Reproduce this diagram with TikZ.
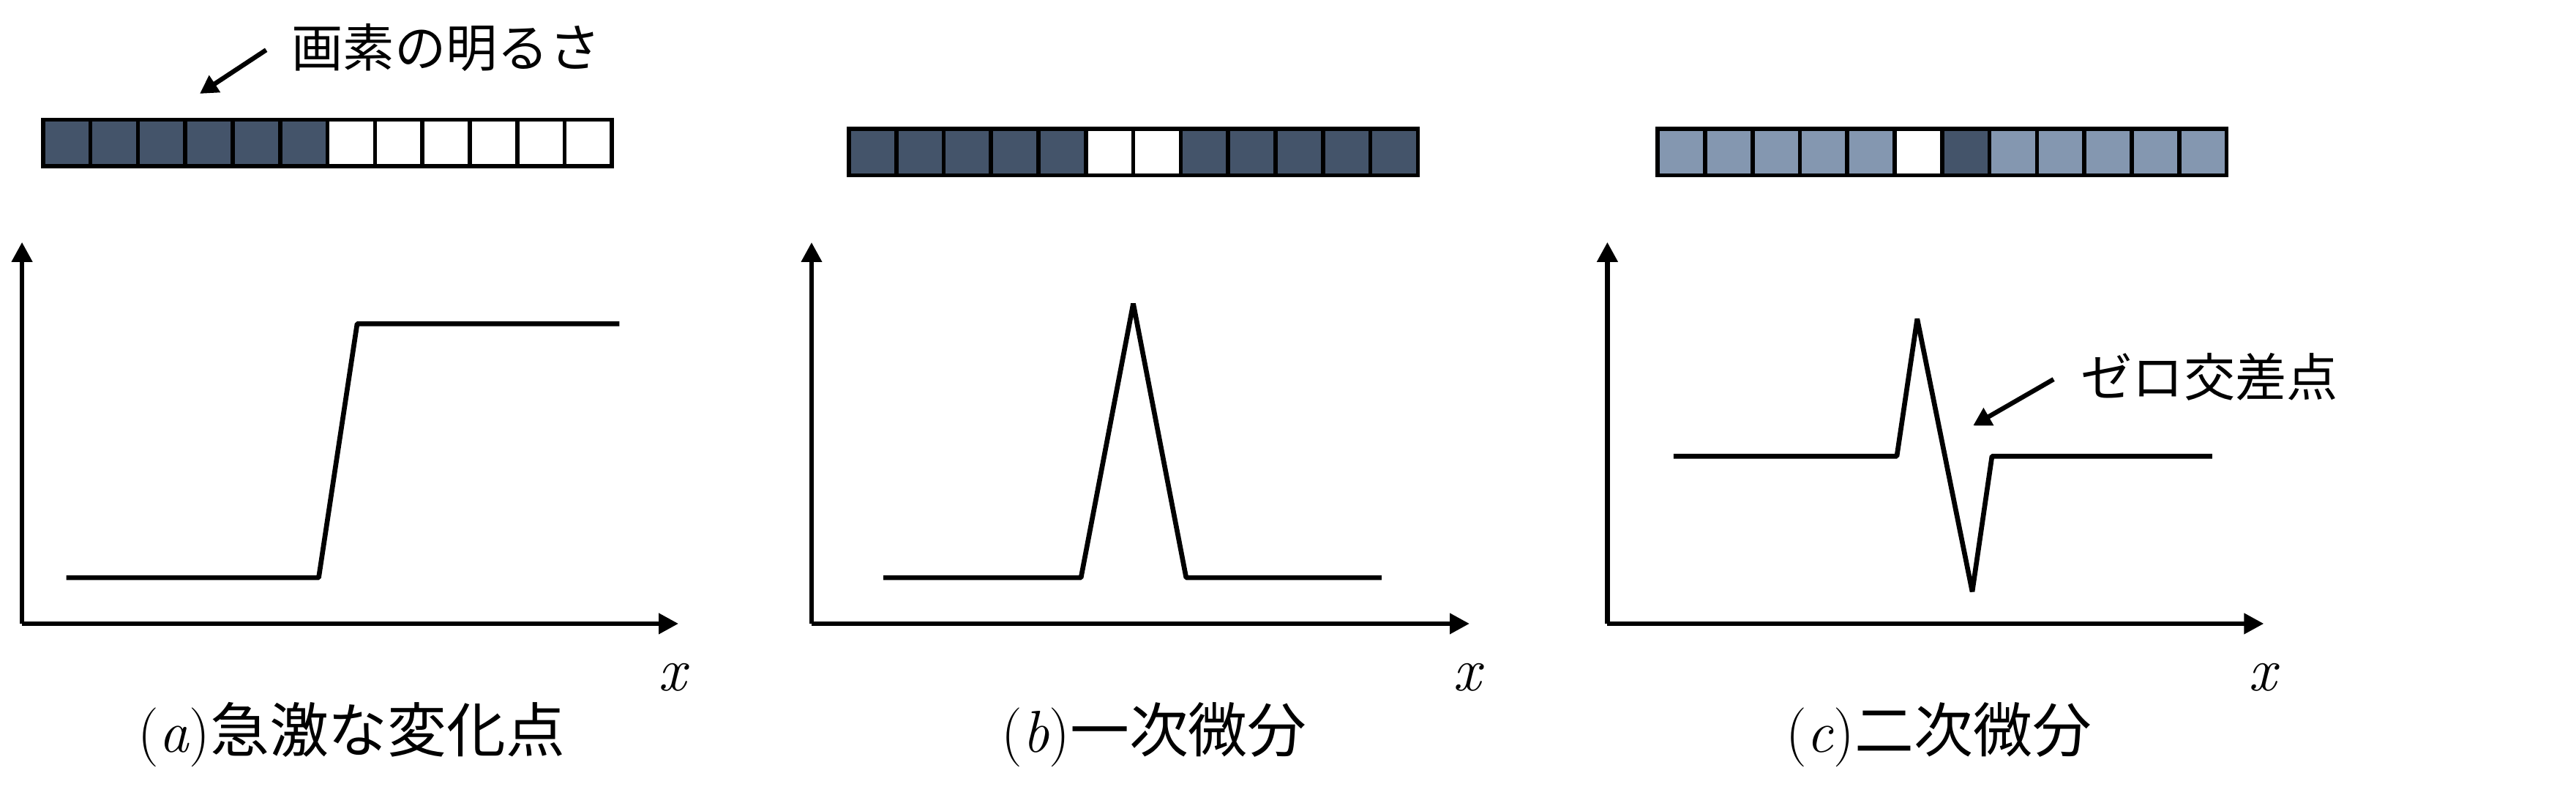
\documentclass[tikz,border=0pt]{standalone}
\usepackage{fontspec}
\newfontfamily\jpfont{Noto Sans CJK JP}
\usetikzlibrary{arrows.meta}
\definecolor{pixdark}{HTML}{44546A}
\definecolor{pixlight}{HTML}{8497B0}

\begin{document}
\begin{tikzpicture}[x=0.02245cm, y=-0.02245cm,
    cell/.style={draw, line width=1.6pt, inner sep=0pt, minimum width=0.648cm, minimum height=0.638cm},
    darkcell/.style={cell, fill=pixdark},
    lightcell/.style={cell, fill=pixlight},
    whitecell/.style={cell, fill=white},
    axisarrow/.style={line width=1.9pt, -{Triangle[length=7.7pt, width=7.7pt]}},
    trace/.style={line width=1.9pt, line join=bevel},
    pointer/.style={line width=1.8pt, -{Triangle[length=7pt, width=7.5pt]}},
    note/.style={font=\fontsize{20}{24}\selectfont\jpfont, inner sep=0pt},
    caption/.style={font=\fontsize{23}{28}\selectfont, inner sep=0pt},
    axislabel/.style={font=\fontsize{24}{28}\selectfont\itshape, inner sep=0pt}]
    \useasboundingbox (0,0) rectangle (1568,483.7);

    % (a) step
    \node[darkcell] at (40.63, 87) (a1) {};
    \node[darkcell] at (69.49, 87) (a2) {};
    \node[darkcell] at (98.35, 87) (a3) {};
    \node[darkcell] at (127.21, 87) (a4) {};
    \node[darkcell] at (156.07, 87) (a5) {};
    \node[darkcell] at (184.93, 87) (a6) {};
    \node[whitecell] at (213.79, 87) (a7) {};
    \node[whitecell] at (242.65, 87) (a8) {};
    \node[whitecell] at (271.51, 87) (a9) {};
    \node[whitecell] at (300.37, 87) (a10) {};
    \node[whitecell] at (329.23, 87) (a11) {};
    \node[whitecell] at (358.09, 87) (a12) {};

    \node[note] at (271.5, 29) (pix) {画素の明るさ};
    \coordinate (pixtail) at (162, 30.4);
    \coordinate (pixtip) at (121.6, 57);
    \draw[pointer] (pixtail) -- (pixtip);

    \coordinate (oa) at (13.4, 379.5);
    \draw[axisarrow] (oa) -- (13.4, 147.3);
    \draw[axisarrow] (oa) -- (413, 379.5);
    \draw[trace] (40.4, 351.5) -- (194, 351.5) -- (217.4, 197) -- (377, 197);
    \node[axislabel] at (409, 412) (xa) {x};
    \node[caption] at (214, 447) (capa) {(\textit{a})\jpfont 急激な変化点};

    % (b) first derivative
    \node[darkcell] at (531.13, 92.5) (b1) {};
    \node[darkcell] at (559.99, 92.5) (b2) {};
    \node[darkcell] at (588.85, 92.5) (b3) {};
    \node[darkcell] at (617.71, 92.5) (b4) {};
    \node[darkcell] at (646.57, 92.5) (b5) {};
    \node[whitecell] at (675.43, 92.5) (b6) {};
    \node[whitecell] at (704.29, 92.5) (b7) {};
    \node[darkcell] at (733.15, 92.5) (b8) {};
    \node[darkcell] at (762.01, 92.5) (b9) {};
    \node[darkcell] at (790.87, 92.5) (b10) {};
    \node[darkcell] at (819.73, 92.5) (b11) {};
    \node[darkcell] at (848.59, 92.5) (b12) {};

    \coordinate (ob) at (494, 379.5);
    \draw[axisarrow] (ob) -- (494, 147.4);
    \draw[axisarrow] (ob) -- (894.5, 379.5);
    \draw[trace] (537.7, 351.5) -- (658, 351.5) -- (689.8, 184.7) -- (722, 351.5) -- (841, 351.5);
    \node[axislabel] at (893, 412) (xb) {x};
    \node[caption] at (702.5, 447) (capb) {(\textit{b})\jpfont 一次微分};

    % (c) second derivative
    \node[lightcell] at (1023.43, 92.5) (c1) {};
    \node[lightcell] at (1052.29, 92.5) (c2) {};
    \node[lightcell] at (1081.15, 92.5) (c3) {};
    \node[lightcell] at (1110.01, 92.5) (c4) {};
    \node[lightcell] at (1138.87, 92.5) (c5) {};
    \node[whitecell] at (1167.73, 92.5) (c6) {};
    \node[darkcell] at (1196.59, 92.5) (c7) {};
    \node[lightcell] at (1225.45, 92.5) (c8) {};
    \node[lightcell] at (1254.31, 92.5) (c9) {};
    \node[lightcell] at (1283.17, 92.5) (c10) {};
    \node[lightcell] at (1312.03, 92.5) (c11) {};
    \node[lightcell] at (1340.89, 92.5) (c12) {};

    \coordinate (oc) at (978.4, 379.5);
    \draw[axisarrow] (oc) -- (978.4, 147.3);
    \draw[axisarrow] (oc) -- (1378, 379.5);
    \draw[trace] (1018.7, 277.6) -- (1154.6, 277.6) -- (1167, 194) -- (1200.5, 360) -- (1212.5, 277.6) -- (1346.5, 277.6);
    \node[axislabel] at (1377, 412) (xc) {x};
    \node[caption] at (1180, 447) (capc) {(\textit{c})\jpfont 二次微分};

    \node[note] at (1345, 229.5) (zero) {ゼロ交差点};
    \coordinate (zerotail) at (1250, 230.8);
    \coordinate (zerotip) at (1201, 259);
    \draw[pointer] (zerotail) -- (zerotip);

  \end{tikzpicture}
\end{document}
